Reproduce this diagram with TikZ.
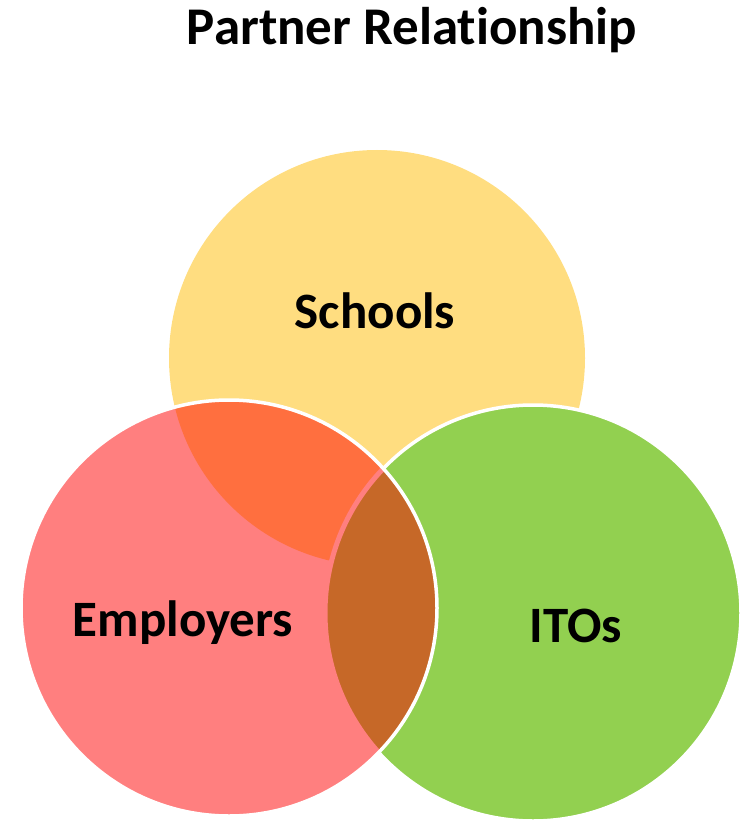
\documentclass[tikz,border=0pt]{standalone}
\usepackage{fontspec}
\setmainfont{Carlito}[Ligatures=NoCommon]
\usepackage{tikz}
\usetikzlibrary{positioning}

\definecolor{schoolfill}{RGB}{255,221,128}
\definecolor{employfill}{RGB}{255,127,127}
\definecolor{itofill}{RGB}{146,208,80}
\definecolor{overlapSE}{RGB}{255,111,63}
\definecolor{overlapEI}{RGB}{198,104,40}

\tikzset{
    label text/.style={font=\fontsize{51}{60}\selectfont\bfseries, anchor=base, inner sep=0pt},
    ring/.style={draw=white, line width=3.5pt}
}

\begin{document}
\begin{tikzpicture}[x=1pt, y=-1pt]
    \useasboundingbox (0,0) rectangle (746,821);

    % Circle centres
    \coordinate (schools) at (377,358);
    \coordinate (employers) at (229,608);
    \coordinate (itos) at (533,613);

    % Circles
    \fill[schoolfill] (schools) circle (208pt);
    \fill[itofill] (itos) circle (208pt);
    \draw[ring] (itos) circle (208pt);
    \fill[employfill] (employers) circle (208pt);

    % Overlaps
    \begin{scope}
        \clip (employers) circle (208pt);
        \clip (schools) circle (208pt);
        \fill[overlapSE] (employers) circle (208pt);
    \end{scope}
    \begin{scope}
        \clip (employers) circle (208pt);
        \filldraw[fill=overlapEI, draw=employfill, line width=5pt] (itos) circle (208pt);
    \end{scope}
    \draw[ring] (employers) circle (208pt);

    % Labels
    \node[label text, font=\fontsize{53}{60}\selectfont\bfseries] (title) at (412,45) {Partner Relationship};
    \node[label text] (schoolslabel) at (375,328) {Schools};
    \node[label text] (employerslabel) at (183,636) {Employers};
    \node[label text] (itoslabel) at (576,642) {ITOs};
\end{tikzpicture}
\end{document}
